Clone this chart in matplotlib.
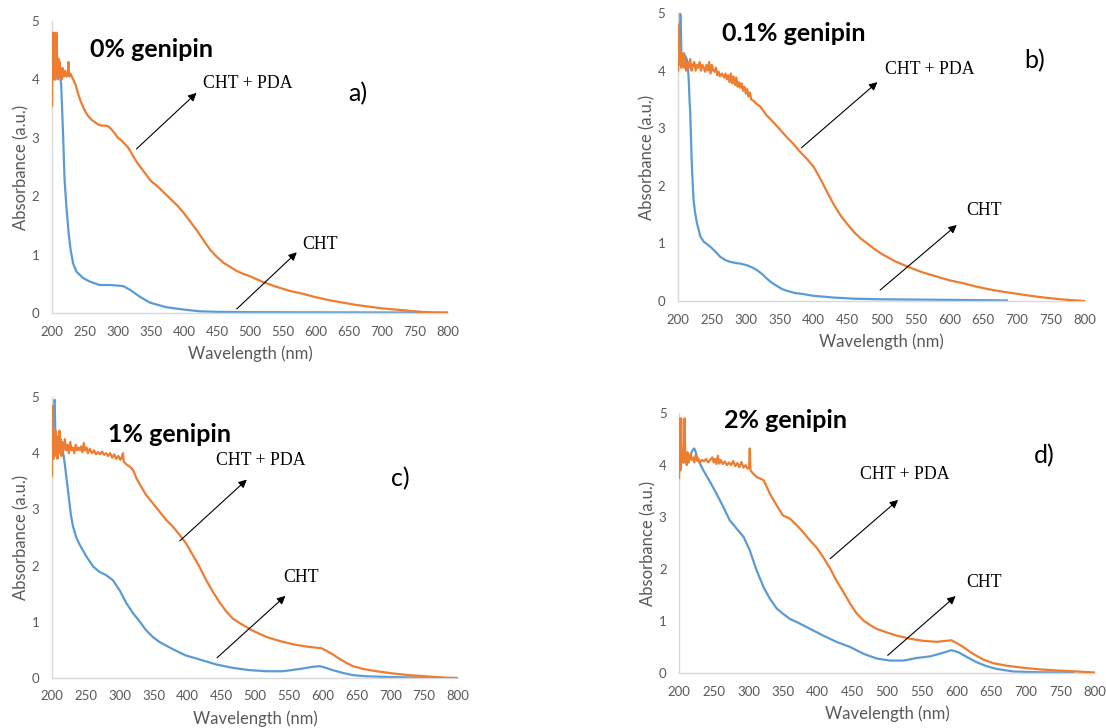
import numpy as np
import matplotlib
matplotlib.use("Agg")
import matplotlib.pyplot as plt

plt.rcParams['font.family'] = ['Lato', 'DejaVu Sans']

BLUE = '#5B9BD5'
ORANGE = '#ED7D31'
GREY = '#595959'

# ---- panel a) 0% genipin ----
wl_a_pda = [200, 201, 202, 203, 204, 205, 206, 207, 208, 209, 210, 211, 212, 213, 214, 215, 216, 218, 220, 222,
            224, 225, 226, 228, 230, 233, 236, 240, 243, 246, 250, 255, 260, 265, 270, 275, 280, 285, 290, 295,
            300, 305, 310, 315, 320, 325, 330, 340, 350, 360, 370, 380, 390, 400, 410, 420, 430, 440, 450, 460,
            470, 480, 490, 500, 520, 540, 560, 580, 600, 620, 640, 660, 680, 700, 720, 740, 760, 780, 800]
abs_a_pda = [3.55, 4.8, 4.1, 4.8, 4.0, 4.8, 4.05, 4.8, 4.2, 4.0, 4.35, 4.05, 4.3, 4.1, 4.15, 4.0, 4.2, 4.05, 4.15, 4.05,
             4.1, 4.3, 4.05, 4.1, 4.05, 3.98, 3.9, 3.74, 3.64, 3.56, 3.46, 3.37, 3.31, 3.27, 3.23, 3.21, 3.21, 3.2, 3.15, 3.08,
             3.0, 2.96, 2.9, 2.84, 2.75, 2.65, 2.56, 2.41, 2.26, 2.17, 2.06, 1.95, 1.84, 1.71, 1.56, 1.41, 1.24, 1.08, 0.96, 0.86,
             0.79, 0.72, 0.67, 0.63, 0.53, 0.45, 0.38, 0.33, 0.27, 0.22, 0.18, 0.14, 0.11, 0.08, 0.06, 0.04, 0.02, 0.005, 0.0]
wl_a_cht = [200, 202, 204, 205, 206, 208, 210, 212, 213, 214, 215, 217, 219, 222, 225, 228, 232, 237, 247, 257,
            272, 288, 300, 308, 318, 333, 348, 373, 399, 424, 450, 500, 600, 700, 800]
abs_a_cht = [4.0, 4.05, 4.1, 4.0, 4.12, 4.05, 4.1, 4.05, 4.0, 3.9, 3.6, 3.0, 2.3, 1.8, 1.4, 1.1, 0.85, 0.71, 0.6, 0.54,
             0.48, 0.48, 0.47, 0.46, 0.4, 0.28, 0.18, 0.1, 0.06, 0.03, 0.02, 0.015, 0.012, 0.01, 0.01]

# ---- panel b) 0.1% genipin ----
wl_b_pda = [200, 201, 202, 203, 204, 205, 206, 207, 208, 209, 210, 212, 214, 216, 218, 220, 222, 224, 226, 228,
            230, 232, 234, 236, 238, 240, 242, 244, 246, 248, 250, 252, 254, 256, 258, 260, 262, 265, 268, 270,
            272, 274, 276, 278, 280, 282, 284, 286, 288, 290, 292, 294, 296, 298, 300, 302, 304, 306, 308, 311,
            316, 321, 326, 331, 341, 351, 360, 370, 380, 390, 400, 410, 420, 430, 440, 450, 460, 470, 480, 490,
            500, 520, 540, 560, 580, 600, 620, 640, 660, 680, 700, 720, 740, 760, 780, 800]
abs_b_pda = [4.0, 4.8, 4.5, 4.1, 4.3, 4.05, 4.25, 4.1, 4.3, 4.05, 4.2, 4.0, 4.15, 4.05, 4.2, 4.0, 4.1, 4.15, 4.0, 4.1,
             4.05, 4.15, 4.0, 4.1, 4.05, 3.98, 4.1, 4.0, 4.15, 3.95, 4.1, 4.0, 3.98, 4.05, 3.92, 3.98, 3.9, 3.95, 3.88, 3.95,
             3.85, 3.92, 3.8, 3.95, 3.78, 3.9, 3.75, 3.88, 3.72, 3.8, 3.7, 3.78, 3.65, 3.72, 3.6, 3.68, 3.55, 3.62, 3.5, 3.48,
             3.42, 3.38, 3.3, 3.22, 3.1, 2.97, 2.85, 2.73, 2.59, 2.47, 2.33, 2.12, 1.89, 1.67, 1.48, 1.33, 1.19, 1.08, 0.99, 0.9,
             0.82, 0.69, 0.59, 0.5, 0.43, 0.36, 0.31, 0.25, 0.2, 0.16, 0.125, 0.09, 0.06, 0.035, 0.015, 0.0]
wl_b_cht = [200, 201, 202, 203, 204, 205, 206, 207, 208, 209, 210, 211, 212, 213, 214, 215, 216, 217, 218, 219,
            220, 221, 223, 225, 228, 233, 238, 248, 255, 262, 270, 277, 285, 292, 302, 310, 316, 324, 331, 338,
            346, 353, 360, 372, 385, 400, 410, 430, 460, 500, 550, 600, 650, 685]
abs_b_cht = [3.95, 4.2, 4.6, 5.0, 4.95, 4.3, 4.15, 4.25, 4.1, 4.3, 4.2, 4.25, 4.15, 4.2, 4.1, 4.0, 3.8, 3.5, 3.3, 2.9,
             2.5, 2.2, 1.75, 1.55, 1.35, 1.12, 1.03, 0.94, 0.86, 0.77, 0.71, 0.68, 0.66, 0.65, 0.62, 0.58, 0.54, 0.47, 0.39, 0.32,
             0.26, 0.21, 0.18, 0.14, 0.12, 0.09, 0.08, 0.06, 0.04, 0.03, 0.025, 0.02, 0.015, 0.01]

# ---- panel c) 1% genipin ----
wl_c_pda = [200, 201, 202, 203, 204, 205, 206, 207, 208, 209, 210, 211, 212, 213, 214, 215, 217, 219, 221, 223,
            225, 227, 229, 231, 233, 235, 237, 239, 241, 243, 245, 247, 249, 251, 253, 256, 259, 262, 265, 268,
            271, 274, 277, 280, 283, 286, 289, 292, 295, 298, 301, 303, 305, 306, 310, 315, 320, 325, 330, 339,
            349, 359, 369, 379, 389, 398, 408, 418, 428, 438, 448, 458, 467, 477, 487, 497, 517, 536, 556, 576,
            590, 598, 605, 615, 625, 635, 645, 660, 680, 704, 729, 753, 773, 800]
abs_c_pda = [3.6, 4.85, 3.9, 4.3, 4.0, 4.4, 3.95, 4.3, 3.9, 4.2, 4.0, 4.4, 4.05, 4.25, 3.95, 4.2, 4.05, 4.25, 4.05, 4.15,
             4.0, 4.2, 4.05, 4.1, 4.0, 4.15, 4.05, 4.1, 4.05, 4.12, 4.02, 4.18, 4.05, 4.1, 4.0, 4.08, 4.0, 4.05, 3.98, 4.02,
             3.98, 4.03, 3.97, 4.0, 3.95, 4.0, 3.92, 3.98, 3.9, 3.95, 3.88, 3.93, 4.0, 3.85, 3.8, 3.76, 3.7, 3.55, 3.44, 3.26,
             3.11, 2.96, 2.81, 2.69, 2.54, 2.4, 2.19, 1.98, 1.74, 1.53, 1.34, 1.18, 1.06, 0.98, 0.91, 0.84, 0.73, 0.66, 0.6, 0.56,
             0.54, 0.53, 0.49, 0.42, 0.34, 0.27, 0.21, 0.16, 0.12, 0.08, 0.05, 0.03, 0.01, 0.0]
wl_c_cht = [200, 202, 204, 205, 206, 207, 208, 209, 210, 211, 212, 213, 214, 216, 219, 222, 225, 228, 231, 236,
            241, 251, 261, 270, 280, 290, 300, 310, 320, 330, 339, 349, 359, 379, 398, 418, 443, 467, 492, 517,
            541, 566, 586, 596, 605, 615, 630, 645, 665, 690, 730, 775]
abs_c_cht = [4.95, 4.9, 4.95, 4.3, 4.1, 4.25, 4.0, 4.2, 4.05, 4.3, 4.1, 4.2, 4.1, 4.05, 3.8, 3.5, 3.2, 2.9, 2.7, 2.5,
             2.37, 2.16, 1.98, 1.89, 1.83, 1.74, 1.56, 1.33, 1.15, 1.0, 0.85, 0.73, 0.64, 0.51, 0.4, 0.33, 0.24, 0.18, 0.14, 0.12,
             0.12, 0.16, 0.2, 0.21, 0.18, 0.14, 0.09, 0.05, 0.03, 0.02, 0.01, 0.005]

# ---- panel d) 2% genipin ----
wl_d_pda = [200, 201, 202, 203, 204, 205, 206, 207, 208, 209, 210, 211, 212, 214, 216, 218, 220, 222, 224, 226,
            228, 230, 233, 236, 239, 242, 245, 248, 250, 252, 254, 256, 258, 260, 263, 266, 269, 272, 275, 278,
            281, 284, 287, 290, 293, 296, 299, 301, 302, 303, 306, 312, 322, 331, 341, 350, 360, 370, 379, 389,
            398, 408, 418, 427, 437, 447, 456, 466, 476, 485, 500, 514, 533, 552, 572, 586, 593, 600, 610, 624,
            639, 653, 673, 697, 721, 750, 774, 800]
abs_d_pda = [3.75, 4.9, 3.9, 4.9, 4.1, 4.3, 4.05, 4.25, 4.9, 4.05, 4.2, 4.0, 4.25, 4.05, 4.2, 4.1, 4.15, 4.05, 4.2, 4.08,
             4.12, 4.05, 4.1, 4.07, 4.12, 4.05, 4.1, 4.15, 4.05, 4.12, 4.02, 4.18, 4.03, 4.1, 4.02, 4.07, 4.0, 4.05, 4.0, 4.08,
             3.98, 4.04, 3.96, 4.06, 3.95, 4.0, 3.93, 3.96, 4.32, 3.9, 3.85, 3.77, 3.71, 3.45, 3.22, 3.03, 2.97, 2.84, 2.71, 2.55,
             2.42, 2.23, 2.01, 1.78, 1.56, 1.33, 1.15, 1.01, 0.92, 0.85, 0.78, 0.72, 0.66, 0.62, 0.6, 0.62, 0.63, 0.58, 0.5, 0.37,
             0.26, 0.19, 0.14, 0.1, 0.07, 0.045, 0.03, 0.01]
wl_d_cht = [200, 201, 202, 203, 204, 205, 206, 207, 208, 210, 212, 214, 216, 218, 220, 222, 224, 226, 230, 235,
            245, 254, 264, 273, 283, 293, 302, 312, 322, 331, 341, 350, 360, 370, 389, 408, 427, 447, 466, 485,
            504, 524, 543, 562, 581, 593, 603, 615, 629, 644, 658, 682, 720, 769]
abs_d_cht = [4.1, 4.0, 4.2, 4.35, 4.1, 4.3, 4.05, 4.25, 4.1, 4.2, 4.1, 4.2, 4.15, 4.25, 4.3, 4.32, 4.25, 4.15, 4.03, 3.9,
             3.67, 3.45, 3.19, 2.94, 2.78, 2.62, 2.36, 1.97, 1.65, 1.43, 1.24, 1.14, 1.04, 0.98, 0.85, 0.72, 0.6, 0.5, 0.37, 0.28,
             0.24, 0.24, 0.29, 0.32, 0.39, 0.44, 0.4, 0.31, 0.21, 0.13, 0.08, 0.03, 0.015, 0.01]

xticks = list(range(200, 801, 50))
yticks = [0, 1, 2, 3, 4, 5]

panels = [
    dict(rect=[0.047, 0.570, 0.358, 0.401], title='0% genipin', tag='a)',
         cht=(wl_a_cht, abs_a_cht), pda=(wl_a_pda, abs_a_pda),
         title_xy=(258, 4.51), tag_xy=(649, 3.76),
         pda_txt=(429, 3.93), pda_arr=((328, 2.81), (419, 3.77)),
         cht_txt=(580, 1.17), cht_arr=((480, 0.07), (571, 1.04))),
    dict(rect=[0.613, 0.5865, 0.368, 0.3956], title='0.1% genipin', tag='b)',
         cht=(wl_b_cht, abs_b_cht), pda=(wl_b_pda, abs_b_pda),
         title_xy=(265, 4.64), tag_xy=(711, 4.18),
         pda_txt=(505, 4.02), pda_arr=((382, 2.66), (494, 3.80)),
         cht_txt=(625, 1.57), cht_arr=((498, 0.19), (611, 1.32))),
    dict(rect=[0.047, 0.0687, 0.367, 0.386], title='1% genipin', tag='c)',
         cht=(wl_c_cht, abs_c_cht), pda=(wl_c_pda, abs_c_pda),
         title_xy=(283, 4.33), tag_xy=(701, 3.54),
         pda_txt=(443, 3.87), pda_arr=((389, 2.44), (488, 3.53)),
         cht_txt=(542, 1.79), cht_arr=((444, 0.36), (545, 1.46))),
    dict(rect=[0.614, 0.0755, 0.376, 0.357], title='2% genipin', tag='d)',
         cht=(wl_d_cht, abs_d_cht), pda=(wl_d_pda, abs_d_pda),
         title_xy=(265, 4.85), tag_xy=(712, 4.19),
         pda_txt=(461, 3.81), pda_arr=((418, 2.2), (516, 3.33)),
         cht_txt=(614, 1.74), cht_arr=((501, 0.34), (599, 1.48))),
]

fig = plt.figure(figsize=(11.06, 7.28), dpi=100)

for p in panels:
    ax = fig.add_axes(p['rect'])
    ax.plot(*p['cht'], color=BLUE, lw=1.6, zorder=2)
    ax.plot(*p['pda'], color=ORANGE, lw=1.6, zorder=3)
    ax.set_xlim(200, 800)
    ax.set_ylim(0, 5)
    ax.set_xticks(xticks)
    ax.set_yticks(yticks)
    ax.tick_params(axis='x', length=0, labelsize=9.5, colors=GREY, pad=9)
    ax.tick_params(axis='y', length=0, labelsize=9.5, colors=GREY, pad=9)
    for s in ['top', 'right']:
        ax.spines[s].set_visible(False)
    for s in ['left', 'bottom']:
        ax.spines[s].set_color('#D9D9D9')
        ax.spines[s].set_linewidth(1.0)
    ax.set_xlabel('Wavelength (nm)', fontsize=12, color=GREY, labelpad=6)
    ax.set_ylabel('Absorbance (a.u.)', fontsize=12, color=GREY, labelpad=2)

    ax.text(*p['title_xy'], p['title'], fontsize=18, fontweight='bold', va='center', ha='left')
    ax.text(*p['tag_xy'], p['tag'], fontsize=18, va='center', ha='left')
    ax.text(*p['pda_txt'], 'CHT + PDA', fontsize=12.8, family='Liberation Serif', va='center', ha='left')
    ax.text(*p['cht_txt'], 'CHT', fontsize=12.8, family='Liberation Serif', va='center', ha='left')
    for start, end in [p['pda_arr'], p['cht_arr']]:
        ax.annotate('', xy=end, xytext=start,
                    arrowprops=dict(arrowstyle='-|>', color='black', lw=0.8, mutation_scale=12,
                                    shrinkA=0, shrinkB=0))

fig.savefig('out.png', dpi=100)
